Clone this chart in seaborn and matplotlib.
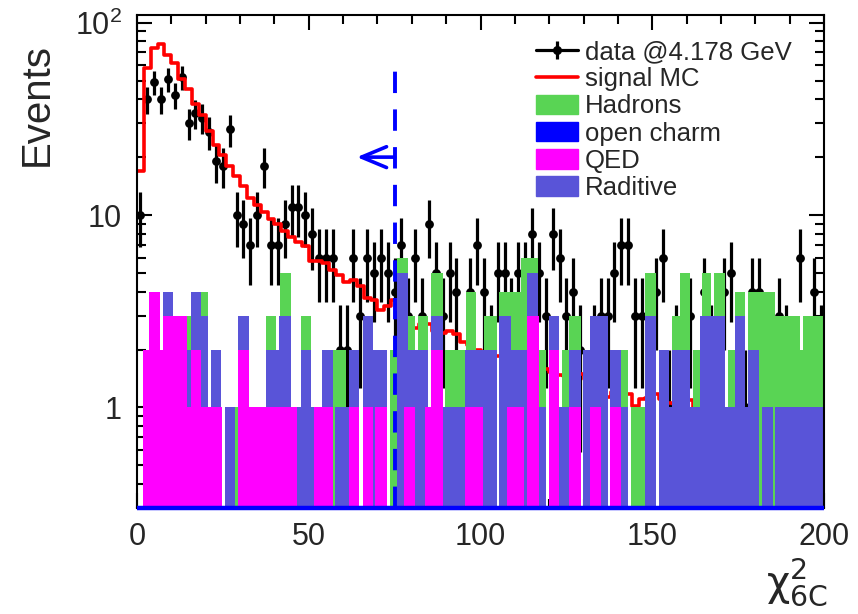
import numpy as np
import pandas as pd
import seaborn as sns
import matplotlib
matplotlib.use("Agg")
import matplotlib.pyplot as plt
from matplotlib.lines import Line2D
from matplotlib.patches import Patch
from matplotlib.legend_handler import HandlerTuple
from matplotlib.ticker import FixedLocator, MultipleLocator, NullFormatter, FixedFormatter

sns.set_theme(style="ticks")
plt.rcParams["font.family"] = ["Liberation Sans", "DejaVu Sans"]
plt.rcParams["mathtext.fontset"] = "custom"
plt.rcParams["mathtext.rm"] = "Liberation Sans"
plt.rcParams["mathtext.it"] = "Liberation Sans"

# ---------------- data ----------------
bin_edges_data = np.arange(0, 202, 2)

data_counts = [10, 40, 49, 40, 51, 42, 52, 30, 34, 32,
               27, 19, 18, 28, 10, 9, 7, 10, 18, 7,
               7, 9, 11, 11, 10, 8, 6, 6, 6, 2,
               2, 6, 3, 6, 5, 6, 5, 4, 7, 3,
               6, 3, 9, 5, 3, 5, 4, 1, 4, 7,
               4, 2, 5, 5, 3, 5, 5, 8, 5, 3,
               8, 6, 3, 4, 2, 1, 2, 3, 3, 5,
               7, 7, 3, 3, 1, 4, 6, 1, 2, 1,
               3, 1, 4, 2, 1, 4, 5, 1, 1, 4,
               4, 1, 1, 3, 2, 1, 6, 1, 4, 2]

mc_counts = [17, 58, 74, 77, 68, 62, 51, 45, 38, 33,
             27.5, 23, 20.5, 18, 15.9, 14.1, 12.2, 11.3, 10.4, 9.5,
             9.0, 8.3, 7.7, 7.2, 6.9, 5.75, 5.8, 5.6, 5.2, 4.9,
             4.5, 4.6, 4.3, 3.7, 3.6, 3.2, 3.35, 3.6, 3.2, 2.9,
             2.6, 2.7, 2.7, 2.5, 2.45, 2.5, 2.4, 2.2, 2.1, 2.0,
             1.9, 1.88, 1.85, 1.8, 1.75, 1.7, 1.65, 1.62, 1.6, 1.59,
             1.52, 1.48, 1.46, 1.45, 1.49, 1.4, 1.35, 1.27, 1.13, 1.2,
             1.22, 1.17, 1.02, 1.1, 1.12, 1.17, 1.1, 1.06, 1.04, 1.0,
             1.09, 0.95, 0.9, 0.92, 0.85, 0.88, 0.8, 0.82, 0.78, 0.75,
             0.77, 0.7, 0.72, 0.68, 0.65, 0.66, 0.6, 0.62, 0.58, 0.55]

open_charm_counts = [0] * 100

# background blocks: start, end, height (drawn back to front)
had_start = [14.6, 18.7, 28.6, 37.6, 41.5, 47.7, 57.0, 73.7, 75.7, 78.9, 81.8, 85.6, 89.8, 95.7,
             100.9, 105.5, 111.7, 116.7, 123.7, 125.9, 141.0, 143.9, 147.8, 155.8, 158.0, 161.9,
             164.5, 168.0, 172.1, 174.0, 177.9, 185.8, 193.0, 194.0]
had_end = [15.6, 20.6, 29.4, 40.6, 44.8, 50.6, 60.8, 75.7, 78.9, 80.8, 84.7, 89.0, 95.7, 98.8,
           104.9, 111.7, 116.7, 119.1, 125.9, 129.3, 143.0, 147.8, 151.2, 158.0, 160.9, 163.8,
           167.2, 171.1, 174.0, 176.9, 185.8, 193.0, 194.0, 200.0]
had_val = [3, 4, 1, 3, 5, 3, 2, 2, 6, 3, 3, 5, 2, 4,
           3, 4, 6, 2, 2, 3, 2, 1, 5, 3, 5, 2,
           5, 5, 2, 4, 4, 3, 2, 3]

rad_start = [7.5, 14.6, 15.6, 18.7, 21.6, 25.5, 29.4, 37.6, 41.4, 46.7, 47.7, 50.6, 53.8, 57.7,
             61.6, 65.7, 68.7, 75.7, 78.9, 80.8, 85.6, 89.0, 95.6, 100.9, 105.5, 109.0, 113.6,
             116.7, 119.8, 122.9, 125.9, 129.8, 131.8, 137.8, 141.0, 147.8, 152.0, 154.9, 155.8,
             160.9, 163.8, 171.1, 172.1, 174.0, 176.9, 177.9, 182.0, 185.8]
rad_end = [10.6, 15.6, 18.7, 20.6, 24.5, 28.6, 32.5, 41.4, 44.8, 47.7, 50.6, 51.6, 57.0, 61.6,
           64.7, 68.7, 72.7, 78.9, 80.8, 84.7, 89.0, 95.6, 100.9, 104.9, 109.0, 113.6, 116.7,
           119.1, 122.9, 125.9, 129.3, 131.8, 137.1, 141.0, 143.0, 151.2, 154.9, 155.8, 160.9,
           163.8, 171.1, 172.1, 174.0, 176.9, 177.9, 181.1, 185.2, 200.0]
rad_val = [4, 2, 4, 3, 2, 1, 3, 2, 3, 1, 2, 1, 2, 1,
           2, 3, 2, 5, 2, 2, 3, 1, 2, 2, 3, 2, 5,
           1, 3, 1, 2, 2, 3, 2, 1, 3, 2, 1, 2,
           1, 3, 1, 1, 3, 1, 2, 1, 1]

qed_start = [1.7, 3.6, 6.8, 7.5, 14.6, 15.6, 18.7, 29.4, 32.5, 51.6, 61.6, 65.7, 69.4, 77.7,
             83.7, 85.6, 95.6, 107.8, 113.6, 119.8, 125.9, 131.8, 137.8]
qed_end = [3.6, 6.8, 7.5, 14.6, 15.6, 18.7, 24.7, 32.5, 46.7, 57.0, 64.7, 68.7, 72.7, 80.8,
           85.6, 89.0, 100.7, 112.8, 116.9, 122.9, 129.3, 135.0, 141.0]
qed_val = [2, 4, 2, 3, 1, 2, 1, 2, 1, 1, 1, 1, 1, 1,
           1, 2, 1, 1, 3, 2, 1, 1, 1]

cut_value = 75
arrow_tip = 64
arrow_level = 20
cut_top = 60

legend_labels = ["data @4.178 GeV", "signal MC", "Hadrons", "open charm", "QED", "Raditive"]

C_HAD = "#59d454"
C_OC = "#0000ff"
C_QED = "#ff00ff"
C_RAD = "#5954d8"

# ---------------- figure ----------------
W, H = 858, 614
fig = plt.figure(figsize=(W / 100, H / 100), dpi=100)
ax = fig.add_axes([137 / W, 1 - 508 / H, (824 - 137) / W, (508 - 14.7) / H])
ax.set_facecolor("white")
YMIN, YMAX = 0.3, 110.0


def blocks_to_bins(starts, ends, vals):
    edges = [0.0]
    weights = []
    for s, e, v in sorted(zip(starts, ends, vals)):
        if s > edges[-1] + 1e-9:
            edges.append(s)
            weights.append(0)
        elif s < edges[-1]:
            s = edges[-1]
        edges.append(e)
        weights.append(v)
    if edges[-1] < 200:
        edges.append(200.0)
        weights.append(0)
    return np.array(edges), np.array(weights, dtype=float)


centers_data = 0.5 * (bin_edges_data[:-1] + bin_edges_data[1:])

# data (drawn first, the stacks cover it)
dc = np.array(data_counts, float)
m = dc > 0
err = np.sqrt(dc[m])
lo = np.minimum(err, dc[m] - 1e-6)
ax.errorbar(centers_data[m], dc[m], yerr=[lo, err], fmt="none", ecolor="black",
            elinewidth=2.3, capsize=0, zorder=1.5)
data_df = pd.DataFrame({"chi2": centers_data[m], "n": dc[m]})
sns.scatterplot(data=data_df, x="chi2", y="n", color="black", s=40, edgecolor="black",
                linewidth=0, ax=ax, zorder=1.6)

# signal MC
mc_df = pd.DataFrame({"chi2": centers_data, "w": mc_counts})
sns.histplot(data=mc_df, x="chi2", weights="w", bins=list(bin_edges_data), element="step",
             fill=False, color="#ff0000", linewidth=2.6, ax=ax, zorder=2)

# backgrounds (drawn back to front)
for starts, ends, vals, col, z in [(had_start, had_end, had_val, C_HAD, 3.0),
                                   (rad_start, rad_end, rad_val, C_RAD, 3.1),
                                   (qed_start, qed_end, qed_val, C_QED, 3.2)]:
    e, w = blocks_to_bins(starts, ends, vals)
    ax.stairs(np.where(w > 0, w, np.nan), e, fill=True, color=col, baseline=YMIN,
              linewidth=0, zorder=z)

# open charm (empty) drawn at the frame bottom
ax.stairs(np.maximum(np.array(open_charm_counts, float), YMIN), bin_edges_data,
          color=C_OC, linewidth=3.2, zorder=9, clip_on=False, baseline=None)

# cut line and arrow
ax.plot([cut_value, cut_value], [YMIN, cut_top], color="#0000ff", lw=2.8,
        dashes=(5.5, 4.2), zorder=7)
ax.annotate("", xy=(arrow_tip, arrow_level), xytext=(cut_value, arrow_level),
            arrowprops=dict(arrowstyle="->,head_length=1.8,head_width=0.75",
                            color="#0000ff", lw=2.6, mutation_scale=10, shrinkA=0, shrinkB=0),
            zorder=7)

# axes
ax.set_yscale("log")
ax.set_xlim(0, 200)
ax.set_ylim(YMIN, YMAX)
ax.set_xlabel("")
ax.set_ylabel("")
ax.xaxis.set_major_locator(MultipleLocator(50))
ax.xaxis.set_minor_locator(MultipleLocator(10))
ax.yaxis.set_major_locator(FixedLocator([1, 10, 100]))
ax.yaxis.set_major_formatter(FixedFormatter(["1", "10", r"$10^{2}$"]))
minors = [v * d for d in (0.1, 1, 10) for v in range(2, 10)]
ax.yaxis.set_minor_locator(FixedLocator([v for v in minors if YMIN < v < YMAX]))
ax.yaxis.set_minor_formatter(NullFormatter())
ax.tick_params(which="both", direction="in", top=True, right=True, width=1.5, color="black")
ax.tick_params(which="major", length=11, labelsize=22)
ax.tick_params(which="minor", length=6.5)
ax.tick_params(axis="x", which="major", pad=10)
ax.tick_params(axis="y", which="major", pad=11)
for sp in ax.spines.values():
    sp.set_linewidth(1.5)
    sp.set_color("black")
    sp.set_zorder(8)

fig.text(37 / W, 1 - 105 / H, "Events", rotation=90, ha="center", va="center", fontsize=29)
fig.text(828 / W, 1 - 582 / H, r"$\mathrm{\chi}^{2}_{\mathrm{6C}}$", ha="right", va="center",
         fontsize=29, family="DejaVu Sans", math_fontfamily="dejavusans")

# legend
h_data = (Line2D([], [], color="black", lw=2.3),
          Line2D([], [], color="black", marker="|", ms=13, mew=2.3, ls="none"),
          Line2D([], [], color="black", marker="o", ms=5.5, ls="none"))
h_mc = Line2D([], [], color="#ff0000", lw=2.6)
handles = [h_data, h_mc,
           Patch(facecolor=C_HAD, edgecolor=C_HAD),
           Patch(facecolor=C_OC, edgecolor=C_OC),
           Patch(facecolor=C_QED, edgecolor=C_QED),
           Patch(facecolor=C_RAD, edgecolor=C_RAD)]
leg = fig.legend(handles, legend_labels, loc="upper left", bbox_to_anchor=(536 / W, 1 - 40 / H),
                 frameon=False, fontsize=18.5, handlelength=1.63, handleheight=0.78,
                 handletextpad=0.27, labelspacing=0.125, borderpad=0, borderaxespad=0,
                 handler_map={tuple: HandlerTuple(ndivide=1, pad=0)})

fig.savefig("out.png", dpi=100, facecolor="white")
